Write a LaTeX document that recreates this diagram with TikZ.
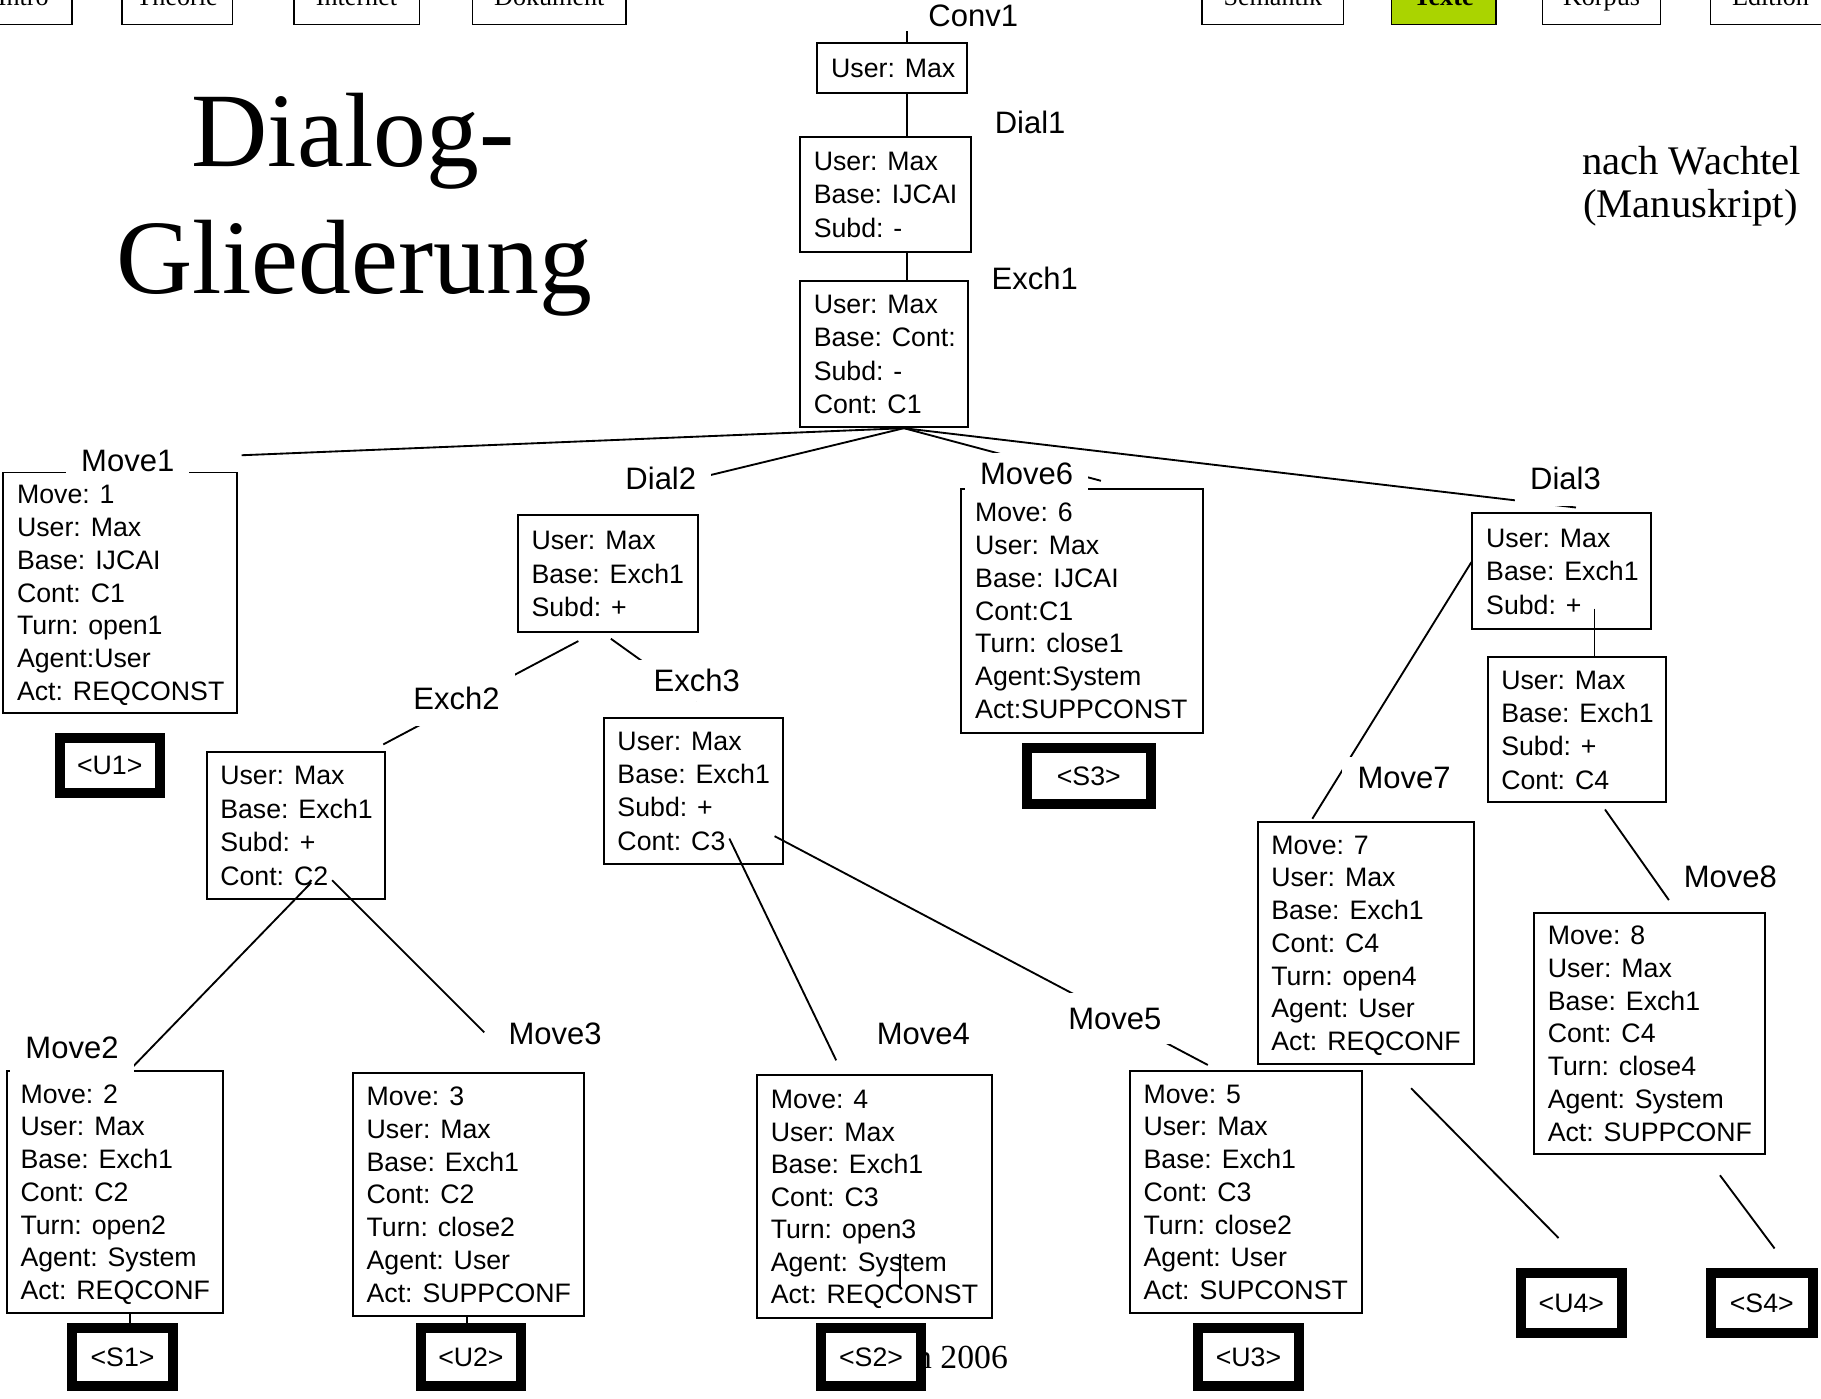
\documentclass[tikz,border=0pt]{standalone}
\usepackage{fontspec}
\newfontfamily\hv{Liberation Sans}
\newfontfamily\tm{Liberation Serif}
\definecolor{navgreen}{RGB}{170,212,0}
\newcommand\sr{\rule[-5pt]{0pt}{26.4pt}}
\tikzset{
 ibox/.style={draw, line width=1.7pt, fill=white, inner sep=0pt, rectangle},
 itext/.style={align=left, inner sep=0pt, font=\hv\fontsize{23}{#1}\selectfont},
 itext/.default=28.9,
 tbx/.style={draw, line width=8.6pt, fill=white, inner sep=0pt, font=\hv\fontsize{23}{27}\selectfont},
 lab/.style={fill=white, inner xsep=13pt, inner ysep=0pt, minimum height=36pt, font=\hv\fontsize{26.7}{30}\selectfont},
 conn/.style={line width=1.6pt},
 nav/.style={draw, line width=1.2pt, inner sep=0pt},
 navtext/.style={font=\tm\fontsize{22.5}{26}\selectfont, inner sep=0pt, anchor=base},
}
\newcommand\ibx[7]{%
 \node[ibox, anchor=north west, minimum width={#4-#2}, minimum height={#5-#3}] (#1) at (#2,#3) {};
 \node[itext=#6, anchor=west] (#1t) at ([xshift=12.5pt]#1.west) {#7};
}
\newcommand\thickbx[6]{%
 \node[tbx, minimum width={#4-#2-8.6}, minimum height={#5-#3-8.6}] (#1) at ({(#2+#4)/2},{(#3+#5)/2}) {#6};
}
\newcommand\navbx[5]{%
 \node[nav, fill=#5, minimum width={#3-#2}, minimum height=61pt] (#1) at ({(#2+#3)/2},-9.5) {};
 \node[navtext] (#1t) at ({(#2+#3)/2},5) {#4};
}
\begin{document}
\begin{tikzpicture}[x=1pt,y=-1pt]
\path[use as bounding box] (0,0) rectangle (1568,1204);
\clip (0,0) rectangle (1568,1204);
\fill[white] (0,0) rectangle (1568,1204);
% navigation bar
\navbx{nintro}{-22}{62}{Intro}{white}
\navbx{ntheo}{105}{200}{Theorie}{white}
\navbx{ninet}{253}{361}{Internet}{white}
\navbx{ndok}{407}{539}{Dokument}{white}
\navbx{nsem}{1035}{1157}{Semantik}{white}
\navbx{ntexte}{1198}{1288}{\bfseries Texte}{navgreen}
\navbx{nkorp}{1328}{1430}{Korpus}{white}
\navbx{nedit}{1473}{1576}{Edition}{white}
% titles
\node[font=\tm\fontsize{91}{100}\selectfont, inner sep=0pt, anchor=base] (title1) at (304,143) {Dialog-};
\node[font=\tm\fontsize{91}{100}\selectfont, inner sep=0pt, anchor=base] (title2) at (305,253) {Gliederung};
\node[font=\tm\fontsize{35}{40}\selectfont, inner sep=0pt, anchor=base east] (src1) at (1551,150) {nach Wachtel};
\node[font=\tm\fontsize{35}{40}\selectfont, inner sep=0pt, anchor=base east] (src2) at (1548,187) {(Manuskript)};
\node[font=\tm\fontsize{29}{32}\selectfont, inner sep=0pt, anchor=base east] (foot) at (868,1178) {© Lobin 2006};
% info boxes
\ibx{conv1}{703}{36}{832}{79}{28.9}{\sr User: Max}
\ibx{dial1}{688}{117}{835}{216}{28.9}{\sr User: Max\\\sr Base: IJCAI\\\sr Subd: -}
\ibx{exch1}{688}{241}{833}{367}{28.7}{\sr User: Max\\\sr Base: Cont:\\\sr Subd: -\\\sr Cont: C1}
\ibx{move1}{2}{406}{203}{613}{28.2}{\sr Move: 1\\\sr User: Max\\\sr Base: IJCAI\\\sr Cont: C1\\\sr Turn: open1\\\sr Agent:User\\\sr Act: REQCONST}
\ibx{dial2}{445}{443}{600}{543}{29}{\sr User: Max\\\sr Base: Exch1\\\sr Subd: +}
\ibx{exch2}{177}{647}{331}{773}{29}{\sr User: Max\\\sr Base: Exch1\\\sr Subd: +\\\sr Cont: C2}
\ibx{exch3}{519}{617}{673}{743}{28.7}{\sr User: Max\\\sr Base: Exch1\\\sr Subd: +\\\sr Cont: C3}
\ibx{move6}{827}{420}{1035}{630}{28.2}{\sr Move: 6\\\sr User: Max\\\sr Base: IJCAI\\\sr Cont:C1\\\sr Turn: close1\\\sr Agent:System\\\sr Act:SUPPCONST}
\ibx{dial3}{1267}{441}{1421}{541}{29}{\sr User: Max\\\sr Base: Exch1\\\sr Subd: +}
\ibx{exch4}{1280}{565}{1434}{690}{28.7}{\sr User: Max\\\sr Base: Exch1\\\sr Subd: +\\\sr Cont: C4}
\ibx{move7}{1082}{707}{1268}{915}{28.2}{\sr Move: 7\\\sr User: Max\\\sr Base: Exch1\\\sr Cont: C4\\\sr Turn: open4\\\sr Agent: User\\\sr Act: REQCONF}
\ibx{move8}{1320}{785}{1519}{993}{28.3}{\sr Move: 8\\\sr User: Max\\\sr Base: Exch1\\\sr Cont: C4\\\sr Turn: close4\\\sr Agent: System\\\sr Act: SUPPCONF}
\ibx{move2}{5}{921}{191}{1130}{28.2}{\sr Move: 2\\\sr User: Max\\\sr Base: Exch1\\\sr Cont: C2\\\sr Turn: open2\\\sr Agent: System\\\sr Act: REQCONF}
\ibx{move3}{303}{923}{502}{1132}{28.2}{\sr Move: 3\\\sr User: Max\\\sr Base: Exch1\\\sr Cont: C2\\\sr Turn: close2\\\sr Agent: User\\\sr Act: SUPPCONF}
\ibx{move4}{651}{925}{853}{1134}{28}{\sr Move: 4\\\sr User: Max\\\sr Base: Exch1\\\sr Cont: C3\\\sr Turn: open3\\\sr Agent: System\\\sr Act: REQCONST}
\ibx{move5}{972}{921}{1172}{1130}{28.2}{\sr Move: 5\\\sr User: Max\\\sr Base: Exch1\\\sr Cont: C3\\\sr Turn: close2\\\sr Agent: User\\\sr Act: SUPCONST}
% thick boxes
\thickbx{u1}{47}{631}{142}{687}{<U1>}
\thickbx{s3}{880}{640}{995}{697}{<S3>}
\thickbx{u4}{1305}{1092}{1401}{1152}{<U4>}
\thickbx{s4}{1469}{1092}{1565}{1152}{<S4>}
\thickbx{s1}{58}{1139}{153}{1198}{<S1>}
\thickbx{u2}{358}{1139}{453}{1198}{<U2>}
\thickbx{s2}{703}{1139}{797}{1198}{<S2>}
\thickbx{u3}{1027}{1139}{1123}{1198}{<U3>}
% connector points
\coordinate (cA) at (781,27);
\coordinate (ex1b) at ([xshift=17pt]exch1.south);
\coordinate (m1end) at (208,392);
\coordinate (d2end) at (612,409);
\coordinate (m6end) at (948,414);
\coordinate (d3end) at (1357,437);
\coordinate (d2a) at (498,552);
\coordinate (e2end) at (330,641);
\coordinate (d2b) at (526,550);
\coordinate (e3end) at (600,603);
\coordinate (e2a) at (268,760);
\coordinate (m2end) at (113,920);
\coordinate (e2b) at (286,758);
\coordinate (m3end) at (417,889);
\coordinate (e3a) at (628,722);
\coordinate (m4end) at (720,913);
\coordinate (e3b) at (667,720);
\coordinate (m5end) at (1040,917);
\coordinate (d3a) at (1267,484);
\coordinate (m7end) at (1130,705);
\coordinate (d3b) at (1373,524);
\coordinate (e4a) at (1382,697);
\coordinate (m8end) at (1437,775);
\coordinate (m7a) at (1215,937);
\coordinate (u4end) at (1342,1066);
\coordinate (m8a) at (1481,1012);
\coordinate (s4end) at (1528,1075);
\coordinate (m4a) at (775,1080);
\coordinate (m4b) at (775,1108);
% connectors
\draw[conn] (cA) -- (cA |- conv1.north);
\draw[conn] (cA |- conv1.south) -- (cA |- dial1.north);
\draw[conn] (cA |- dial1.south) -- (cA |- exch1.north);
\draw[conn] (ex1b) -- (m1end);
\draw[conn] (ex1b) -- (d2end);
\draw[conn] (ex1b) -- (m6end);
\draw[conn] (ex1b) -- (d3end);
\draw[conn] (d2a) -- (e2end);
\draw[conn] (d2b) -- (e3end);
\draw[conn] (e2a) -- (m2end);
\draw[conn] (e2b) -- (m3end);
\draw[conn] (e3a) -- (m4end);
\draw[conn] (e3b) -- (m5end);
\draw[conn] (d3a) -- (m7end);
\draw[conn] (d3b) -- (d3b |- exch4.north);
\draw[conn] (e4a) -- (m8end);
\draw[conn] (m7a) -- (u4end);
\draw[conn] (m8a) -- (s4end);
\draw[conn] ([xshift=6.5pt]s1.north) -- ([xshift=6.5pt]s1.north |- move2.south);
\draw[conn] ([xshift=-3.5pt]u2.north) -- ([xshift=-3.5pt]u2.north |- move3.south);
\draw[conn] (m4a) -- (m4b);
% labels
\node[lab] (lconv1) at (838,14) {Conv1};
\node[lab] (ldial1) at (887,105) {Dial1};
\node[lab] (lexch1) at (891,240) {Exch1};
\node[lab] (lmove1) at (110,397) {Move1};
\node[lab] (ldial2) at (569,412) {Dial2};
\node[lab, minimum height=48pt] (lexch2) at (393,601) {Exch2};
\node[lab] (lexch3) at (600,586) {Exch3};
\node[lab] (lmove6) at (884,408) {Move6};
\node[lab, minimum height=48pt] (ldial3) at (1348,412) {Dial3};
\node[lab] (lmove7) at (1209,670) {Move7};
\node[lab] (lmove8) at (1490,755) {Move8};
\node[lab, minimum height=42pt] (lmove2) at (62,902) {Move2};
\node[lab] (lmove3) at (478,890) {Move3};
\node[lab] (lmove4) at (795,890) {Move4};
\node[lab, minimum height=44pt] (lmove5) at (960,877) {Move5};
\end{tikzpicture}
\end{document}
